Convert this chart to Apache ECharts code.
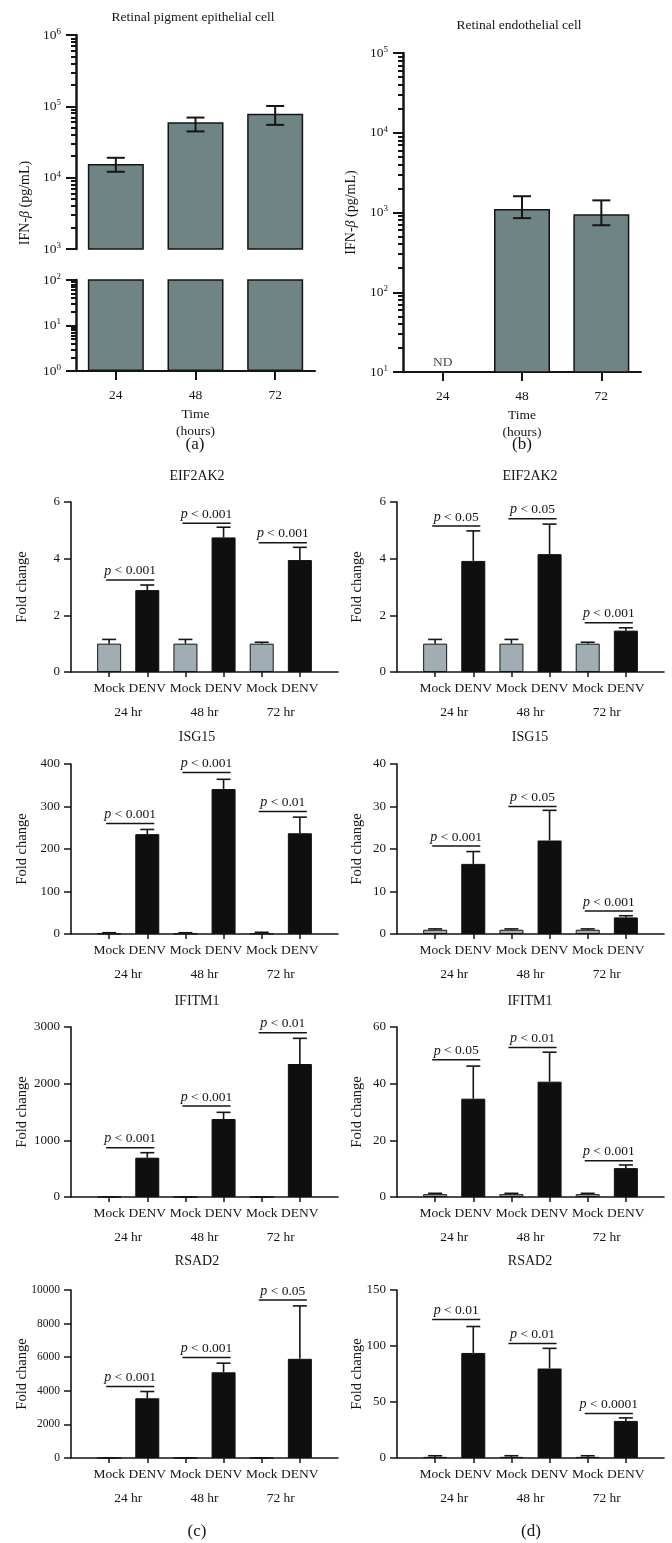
<!DOCTYPE html>
<html><head><meta charset="utf-8">
<script src="https://cdn.jsdelivr.net/npm/echarts@6/dist/echarts.min.js"></script>
<style>html,body{margin:0;padding:0;background:#fff}#c{width:672px;height:1543px}</style>
</head><body><div id="c"></div>
<script>
// ================= DATA =================
// (a) Retinal pigment epithelial cell : IFN-beta (pg/mL)
const timeLabels = ['24', '48', '72'];
const rpeIfnMean = [15600, 60000, 79000];
const rpeIfnLow  = [12100, 44500, 55000];
const rpeIfnHigh = [19000, 69600, 101000];
// (b) Retinal endothelial cell : IFN-beta (pg/mL)
const recIfnMean = [null, 1110, 950];
const recIfnLow  = [null, 850, 692];
const recIfnHigh = [null, 1600, 1420];
const ndLabel = 'ND';

// (c)/(d) fold change
const conditionLabels = ['Mock', 'DENV'];
const hourLabels = ['24 hr', '48 hr', '72 hr'];
const geneNames = ['EIF2AK2', 'ISG15', 'IFITM1', 'RSAD2'];

// (c) retinal pigment epithelial cells
const cEIF2AK2Mock = [1.0, 1.0, 1.0];
const cEIF2AK2MockErr = [1.15, 1.15, 1.05];
const cEIF2AK2Denv = [2.89, 4.75, 3.95];
const cEIF2AK2DenvErr = [3.07, 5.11, 4.40];
const cEIF2AK2Sig = [3.25, 5.25, 4.56];
const cEIF2AK2P = ['< 0.001', '< 0.001', '< 0.001'];

const cISG15Mock = [1, 1, 1];
const cISG15MockErr = [3, 3, 4];
const cISG15Denv = [235, 341, 237];
const cISG15DenvErr = [246, 364, 275];
const cISG15Sig = [260, 380, 288];
const cISG15P = ['< 0.001', '< 0.001', '< 0.01'];

const cIFITM1Mock = [1, 1, 1];
const cIFITM1MockErr = [2, 2, 2];
const cIFITM1Denv = [694, 1376, 2347];
const cIFITM1DenvErr = [782, 1494, 2800];
const cIFITM1Sig = [870, 1606, 2900];
const cIFITM1P = ['< 0.001', '< 0.001', '< 0.01'];

const cRSAD2Mock = [1, 1, 1];
const cRSAD2MockErr = [2, 2, 2];
const cRSAD2Denv = [3554, 5100, 5904];
const cRSAD2DenvErr = [3958, 5645, 9054];
const cRSAD2Sig = [4257, 5980, 9400];
const cRSAD2P = ['< 0.001', '< 0.001', '< 0.05'];

// (d) retinal endothelial cells
const dEIF2AK2Mock = [1.0, 1.0, 1.0];
const dEIF2AK2MockErr = [1.15, 1.15, 1.05];
const dEIF2AK2Denv = [3.92, 4.16, 1.46];
const dEIF2AK2DenvErr = [4.98, 5.22, 1.56];
const dEIF2AK2Sig = [5.15, 5.41, 1.74];
const dEIF2AK2P = ['< 0.05', '< 0.05', '< 0.001'];

const dISG15Mock = [1, 1, 1];
const dISG15MockErr = [1.2, 1.2, 1.2];
const dISG15Denv = [16.5, 22.0, 3.9];
const dISG15DenvErr = [19.4, 29.1, 4.3];
const dISG15Sig = [20.7, 30.0, 5.4];
const dISG15P = ['< 0.001', '< 0.05', '< 0.001'];

const dIFITM1Mock = [1, 1, 1];
const dIFITM1MockErr = [1.3, 1.3, 1.3];
const dIFITM1Denv = [34.7, 40.7, 10.2];
const dIFITM1DenvErr = [46.2, 51.1, 11.3];
const dIFITM1Sig = [48.4, 52.8, 12.8];
const dIFITM1P = ['< 0.05', '< 0.01', '< 0.001'];

const dRSAD2Mock = [1, 1, 1];
const dRSAD2MockErr = [2, 2, 2];
const dRSAD2Denv = [93.8, 79.9, 33.1];
const dRSAD2DenvErr = [117.4, 97.9, 35.8];
const dRSAD2Sig = [123.6, 102.3, 39.7];
const dRSAD2P = ['< 0.01', '< 0.01', '< 0.0001'];

// axis ranges
const cAxisMax = [6, 400, 3000, 10000];
const cAxisStep = [2, 100, 1000, 2000];
const dAxisMax = [6, 40, 60, 150];
const dAxisStep = [2, 10, 20, 50];

// ================= STYLE / LAYOUT =================
const SERIF = '"Liberation Serif","DejaVu Serif",serif';
const INK = '#151515';
const TOP_BAR = '#6f8484';
const MOCK_BAR = '#a0aeb4';
const DENV_BAR = '#0f0f0f';

const chart = echarts.init(document.getElementById('c'), null, {renderer: 'canvas', width: 672, height: 1543});
const option = {animation: false, backgroundColor: '#ffffff', title: [], grid: [], xAxis: [], yAxis: [], series: [], graphic: []};
const txt = (size, extra) => Object.assign({fontFamily: SERIF, fontSize: size, color: INK, fontWeight: 'normal'}, extra || {});

function addTitle(text, cx, cy, size) {
  option.title.push({text: text, left: cx, top: cy - size * 0.55, textAlign: 'center', padding: 0, textStyle: txt(size)});
}
function addGrid(g) { option.grid.push(g); return option.grid.length - 1; }
function addX(a) { option.xAxis.push(a); return option.xAxis.length - 1; }
function addY(a) { option.yAxis.push(a); return option.yAxis.length - 1; }

const powRich = {
  b: {fontFamily: SERIF, fontSize: 13.5, color: INK, lineHeight: 16},
  s: {fontFamily: SERIF, fontSize: 9, color: INK, lineHeight: 10, verticalAlign: 'top'}
};
function powLabel(v) { return '{b|10}{s|' + Math.round(Math.log10(v)) + '}'; }
// minor tick positions of a decade log scale (2..9 x 10^n)
function logMinorTicks(min, max) {
  const out = [];
  for (let e = Math.round(Math.log10(min)); e < Math.round(Math.log10(max)); e++) {
    for (let k = 2; k <= 9; k++) out.push(k * Math.pow(10, e));
  }
  return out;
}

function logY(grid, min, max, extra) {
  const major = addY(Object.assign({
    gridIndex: grid, type: 'log', logBase: 10, min: min, max: max, position: 'left',
    axisLine: {show: true, onZero: false, lineStyle: {color: INK, width: 2.5}},
    axisTick: {show: true, length: 10, lineStyle: {color: INK, width: 2}},
    splitLine: {show: false},
    axisLabel: {formatter: powLabel, rich: powRich, margin: 15}
  }, extra || {}));
  addY({
    gridIndex: grid, type: 'log', logBase: 10, min: min, max: max, position: 'left',
    axisLine: {show: false},
    axisTick: {show: true, length: 5, customValues: logMinorTicks(min, max), lineStyle: {color: INK, width: 2}},
    splitLine: {show: false},
    axisLabel: {show: false}
  });
  return major;
}

function errRender(twoSided, capHalf, width) {
  return function (params, api) {
    const x = api.value(0), lo = api.value(1), hi = api.value(2);
    const a = api.coord([x, lo]), b = api.coord([x, hi]);
    const st = {stroke: INK, lineWidth: width};
    const ch = [
      {type: 'line', shape: {x1: a[0], y1: a[1], x2: b[0], y2: b[1]}, style: st},
      {type: 'line', shape: {x1: b[0] - capHalf, y1: b[1], x2: b[0] + capHalf, y2: b[1]}, style: st}
    ];
    if (twoSided) ch.push({type: 'line', shape: {x1: a[0] - capHalf, y1: a[1], x2: a[0] + capHalf, y2: a[1]}, style: st});
    return {type: 'group', children: ch};
  };
}

// ================= (a) =================
addTitle('Retinal pigment epithelial cell', 193, 18, 13.5);
const gA1 = addGrid({left: 76, top: 35, width: 239, height: 214});
const gA2 = addGrid({left: 76, top: 280, width: 239, height: 91});
const xA1 = addX({gridIndex: gA1, type: 'category', data: timeLabels, axisLine: {show: false}, axisTick: {show: false}, axisLabel: {show: false}});
const xA2 = addX({gridIndex: gA2, type: 'category', data: timeLabels,
  axisLine: {show: true, onZero: false, lineStyle: {color: INK, width: 2}},
  axisTick: {show: true, alignWithLabel: true, length: 9, lineStyle: {color: INK, width: 2}},
  axisLabel: Object.assign({margin: 17}, txt(13.5)),
  name: 'Time\n(hours)', nameLocation: 'middle', nameGap: 35, nameTextStyle: txt(13.5, {lineHeight: 17})});
const yA1 = logY(gA1, 1e3, 1e6);
const yA2 = logY(gA2, 1, 100);
option.series.push({type: 'bar', xAxisIndex: xA1, yAxisIndex: yA1, data: rpeIfnMean, barWidth: 56, clip: true,
  itemStyle: {color: TOP_BAR, borderColor: INK, borderWidth: 1.5}});
option.series.push({type: 'bar', xAxisIndex: xA2, yAxisIndex: yA2, data: rpeIfnMean, barWidth: 56, clip: true,
  itemStyle: {color: TOP_BAR, borderColor: INK, borderWidth: 1.5}});
option.series.push({type: 'custom', xAxisIndex: xA1, yAxisIndex: yA1, renderItem: errRender(true, 9, 2), z: 5,
  data: rpeIfnMean.map((m, i) => [i, rpeIfnLow[i], rpeIfnHigh[i]])});
option.graphic.push({type: 'text', x: 25, y: 203, rotation: Math.PI / 2,
  style: {text: '{n|IFN-}{i|\u03b2}{n| (pg/mL)}', align: 'center', verticalAlign: 'middle',
    rich: {n: {fontFamily: SERIF, fontSize: 14, fill: INK}, i: {fontFamily: SERIF, fontSize: 14, fontStyle: 'italic', fill: INK}}}});
addTitle('(a)', 195, 445, 17);

// ================= (b) =================
addTitle('Retinal endothelial cell', 519, 26, 13.5);
const gB = addGrid({left: 403, top: 53, width: 238, height: 319});
const xB = addX({gridIndex: gB, type: 'category', data: timeLabels,
  axisLine: {show: true, onZero: false, lineStyle: {color: INK, width: 2}},
  axisTick: {show: true, alignWithLabel: true, length: 9, lineStyle: {color: INK, width: 2}},
  axisLabel: Object.assign({margin: 17}, txt(13.5)),
  name: 'Time\n(hours)', nameLocation: 'middle', nameGap: 35, nameTextStyle: txt(13.5, {lineHeight: 17})});
const yB = logY(gB, 10, 1e5, {
  name: '{n|IFN-}{i|\u03b2}{n| (pg/mL)}', nameLocation: 'middle', nameGap: 45, nameMoveOverlap: false,
  nameTextStyle: {rich: {n: txt(14), i: txt(14, {fontStyle: 'italic'})}}});
option.series.push({type: 'bar', xAxisIndex: xB, yAxisIndex: yB, data: recIfnMean, barWidth: 56, clip: true,
  itemStyle: {color: TOP_BAR, borderColor: INK, borderWidth: 1.5}});
option.series.push({type: 'custom', xAxisIndex: xB, yAxisIndex: yB, renderItem: errRender(true, 9, 2), z: 5,
  data: recIfnMean.map((m, i) => [i, recIfnLow[i], recIfnHigh[i]]).filter(d => d[1] != null)});
option.series.push({type: 'scatter', xAxisIndex: xB, yAxisIndex: yB, symbolSize: 0, clip: false,
  data: recIfnMean.map((m, i) => m == null ? [i, 10] : null).filter(d => d),
  label: {show: true, position: 'top', distance: 3, formatter: ndLabel, fontFamily: SERIF, fontSize: 13.5, color: INK}});
addTitle('(b)', 522, 445, 17);

// ================= (c) / (d) =================
const panels = [
  {col: 0, row: 0, mock: cEIF2AK2Mock, mockErr: cEIF2AK2MockErr, denv: cEIF2AK2Denv, denvErr: cEIF2AK2DenvErr, sig: cEIF2AK2Sig, p: cEIF2AK2P},
  {col: 0, row: 1, mock: cISG15Mock, mockErr: cISG15MockErr, denv: cISG15Denv, denvErr: cISG15DenvErr, sig: cISG15Sig, p: cISG15P},
  {col: 0, row: 2, mock: cIFITM1Mock, mockErr: cIFITM1MockErr, denv: cIFITM1Denv, denvErr: cIFITM1DenvErr, sig: cIFITM1Sig, p: cIFITM1P},
  {col: 0, row: 3, mock: cRSAD2Mock, mockErr: cRSAD2MockErr, denv: cRSAD2Denv, denvErr: cRSAD2DenvErr, sig: cRSAD2Sig, p: cRSAD2P},
  {col: 1, row: 0, mock: dEIF2AK2Mock, mockErr: dEIF2AK2MockErr, denv: dEIF2AK2Denv, denvErr: dEIF2AK2DenvErr, sig: dEIF2AK2Sig, p: dEIF2AK2P},
  {col: 1, row: 1, mock: dISG15Mock, mockErr: dISG15MockErr, denv: dISG15Denv, denvErr: dISG15DenvErr, sig: dISG15Sig, p: dISG15P},
  {col: 1, row: 2, mock: dIFITM1Mock, mockErr: dIFITM1MockErr, denv: dIFITM1Denv, denvErr: dIFITM1DenvErr, sig: dIFITM1Sig, p: dIFITM1P},
  {col: 1, row: 3, mock: dRSAD2Mock, mockErr: dRSAD2MockErr, denv: dRSAD2Denv, denvErr: dRSAD2DenvErr, sig: dRSAD2Sig, p: dRSAD2P}
];
const rowTop = [502, 764, 1027, 1290];
const rowHeight = [170, 170, 170, 168];
const rowTitleY = [477, 738, 1002, 1262];
const colLeft = [71, 397];
const colTitleX = [197, 530];
const colNameGap = [41, 32];
const gridW = 267;

const mainCats = [''].concat(...hourLabels.map(() => conditionLabels), ['']);
const groupCats = [];
for (let i = 0; i < hourLabels.length * 4 + 3; i++) groupCats.push('');
hourLabels.forEach((h, g) => { groupCats[4 * g + 3] = h; });

function sigRender(labels) {
  return function (params, api) {
    const g = api.value(0), y = api.value(1);
    const a = api.coord([1 + 2 * g, y]), b = api.coord([2 + 2 * g, y]);
    const x1 = a[0] - 3, x2 = b[0] + 7;
    return {type: 'group', children: [
      {type: 'line', shape: {x1: x1, y1: a[1], x2: x2, y2: a[1]}, style: {stroke: INK, lineWidth: 1.5}},
      {type: 'text', x: (x1 + x2) / 2, y: a[1] - 2, style: {
        text: '{i|p} ' + labels[params.dataIndex], fill: INK, fontFamily: SERIF, fontSize: 13.5,
        align: 'center', verticalAlign: 'bottom',
        rich: {i: {fontStyle: 'italic', fontFamily: SERIF, fontSize: 14, fill: INK}}}}
    ]};
  };
}

panels.forEach(pn => {
  const top = rowTop[pn.row], h = rowHeight[pn.row], left = colLeft[pn.col];
  const max = pn.col === 0 ? cAxisMax[pn.row] : dAxisMax[pn.row];
  const step = pn.col === 0 ? cAxisStep[pn.row] : dAxisStep[pn.row];
  const tickFont = (pn.col === 0 && pn.row === 3) ? 11.5 : 13;
  addTitle(geneNames[pn.row], colTitleX[pn.col], rowTitleY[pn.row], 14);
  const g = addGrid({left: left, top: top, width: gridW, height: h});
  const xm = addX({gridIndex: g, type: 'category', boundaryGap: false, data: mainCats, position: 'bottom',
    axisLine: {show: true, onZero: false, lineStyle: {color: INK, width: 1.6}},
    axisTick: {show: true, length: 5, interval: (i) => i >= 1 && i <= mainCats.length - 2, lineStyle: {color: INK, width: 1.5}},
    axisLabel: Object.assign({interval: 0, margin: 9}, txt(13.5))});
  addX({gridIndex: g, type: 'category', boundaryGap: false, data: groupCats, position: 'bottom',
    axisLine: {show: false}, axisTick: {show: false}, splitLine: {show: false},
    axisLabel: Object.assign({interval: 0, margin: 33}, txt(13.5))});
  const y = addY({gridIndex: g, type: 'value', min: 0, max: max, interval: step,
    axisLine: {show: true, onZero: false, lineStyle: {color: INK, width: 1.6}},
    axisTick: {show: true, length: 7, lineStyle: {color: INK, width: 1.5}},
    splitLine: {show: false},
    axisLabel: Object.assign({margin: 11, formatter: (v) => String(v)}, txt(tickFont)),
    name: 'Fold change', nameLocation: 'middle', nameGap: colNameGap[pn.col], nameMoveOverlap: false,
    nameTextStyle: txt(14.5)});
  const barData = [null];
  const errData = [];
  pn.mock.forEach((m, k) => {
    barData.push({value: m, itemStyle: {color: MOCK_BAR, borderColor: INK, borderWidth: 1}});
    barData.push({value: pn.denv[k], itemStyle: {color: DENV_BAR, borderColor: DENV_BAR, borderWidth: 1}});
    errData.push([1 + 2 * k, m, pn.mockErr[k]]);
    errData.push([2 + 2 * k, pn.denv[k], pn.denvErr[k]]);
  });
  barData.push(null);
  option.series.push({type: 'bar', xAxisIndex: xm, yAxisIndex: y, data: barData, barWidth: 24});
  option.series.push({type: 'custom', xAxisIndex: xm, yAxisIndex: y, renderItem: errRender(false, 7, 1.6), data: errData, z: 5});
  option.series.push({type: 'custom', xAxisIndex: xm, yAxisIndex: y, renderItem: sigRender(pn.p), z: 5,
    data: pn.sig.map((s, k) => [k, s])});
});
addTitle('(c)', 197, 1532, 17);
addTitle('(d)', 531, 1532, 17);

chart.setOption(option);
</script>
</body></html>
